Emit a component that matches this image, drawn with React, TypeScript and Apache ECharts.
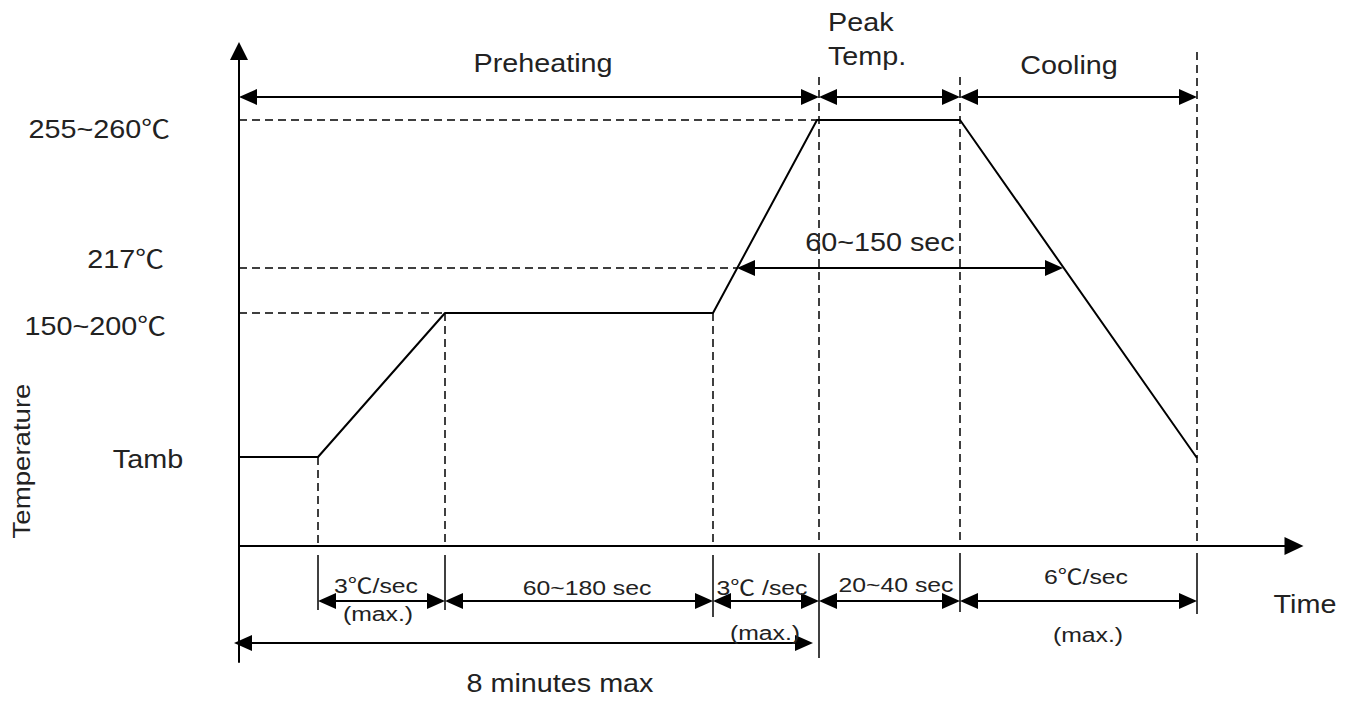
import React, { useEffect, useRef } from 'react';
import * as echarts from 'echarts';

// ---- schematic data (time units / temperature levels) ----
const profileTime = [0, 79, 206, 474, 578, 721, 958];
const profileTemp = [89, 89, 233, 233, 426, 426, 88];

const levelLabels = ['255~260℃', '217℃', '150~200℃', 'Tamb'];
const levelValues = [426, 278, 233, 89];

const stageBounds = [0, 79, 206, 474, 580, 721, 958];
const stageLabels = ['3℃/sec', '60~180 sec', '3℃ /sec', '20~40 sec', '6℃/sec'];
const stageNotes = ['(max.)', '', '(max.)', '', '(max.)'];
const guideTops = [89, 233, 233, 469, 469, 494];
const tickDepths = [-64, -64, -71, -112, -66, -68];

const phaseBounds = [0, 580, 721, 958];
const phaseLabels = ['Preheating', 'Peak\nTemp.', 'Cooling'];

const liquidusSpan = [498, 824];
const liquidusLabel = '60~150 sec';
const totalSpan = [-5, 574];
const totalLabel = '8 minutes max';

const axisNames = ['Temperature', 'Time'];

const FONT = '"Liberation Sans", Arial, "Noto Sans CJK SC", sans-serif';
const INK = '#000';
const TEXT = '#222';

function segmentRender(lineWidth: number, dash?: number[]) {
  return (params: any, api: any) => {
    const p1 = api.coord([api.value(0), api.value(1)]);
    const p2 = api.coord([api.value(2), api.value(3)]);
    const style: any = { stroke: INK, lineWidth };
    if (dash) style.lineDash = dash;
    return { type: 'line', shape: { x1: p1[0], y1: p1[1], x2: p2[0], y2: p2[1] }, style };
  };
}

function arrowRender(params: any, api: any) {
  const p1 = api.coord([api.value(0), api.value(1)]);
  const p2 = api.coord([api.value(2), api.value(3)]);
  const dx = p2[0] - p1[0];
  const dy = p2[1] - p1[1];
  const L = Math.hypot(dx, dy) || 1;
  const ux = dx / L;
  const uy = dy / L;
  const len = 18;
  const half = 8;
  const head = (tip: number[], d: number[]) => {
    const bx = tip[0] - d[0] * len;
    const by = tip[1] - d[1] * len;
    return {
      type: 'polygon',
      shape: {
        points: [
          [tip[0], tip[1]],
          [bx - d[1] * half, by + d[0] * half],
          [bx + d[1] * half, by - d[0] * half],
        ],
      },
      style: { fill: INK },
    };
  };
  return {
    type: 'group',
    children: [
      {
        type: 'line',
        shape: {
          x1: p1[0] + ux * len * 0.6,
          y1: p1[1] + uy * len * 0.6,
          x2: p2[0] - ux * len * 0.6,
          y2: p2[1] - uy * len * 0.6,
        },
        style: { stroke: INK, lineWidth: 2 },
      },
      head(p1, [-ux, -uy]),
      head(p2, [ux, uy]),
    ],
  };
}

function txt(text: string, x: number, y: number, size: number, opts: any = {}) {
  return {
    type: 'text',
    x,
    y,
    scaleX: opts.sx ?? 1.15,
    rotation: opts.rot ?? 0,
    z: 20,
    style: {
      text,
      font: `${size}px ${FONT}`,
      fill: TEXT,
      align: opts.align ?? 'center',
      verticalAlign: 'middle',
      lineHeight: opts.lh ?? size,
    },
  };
}

export default function App() {
  const ref = useRef<HTMLDivElement>(null);

  useEffect(() => {
    if (!ref.current) return;
    const chart = echarts.init(ref.current, null, { renderer: 'svg' });

    const phaseY = 449;
    const stageY = -55;
    const totalY = -97;

    // dashed guides
    const dashed: number[][] = [
      [0, levelValues[0], profileTime[4], levelValues[0]],
      [0, levelValues[1], liquidusSpan[0], levelValues[1]],
      [0, levelValues[2], profileTime[2], levelValues[2]],
    ];
    stageBounds.slice(1).forEach((x, i) => dashed.push([x, guideTops[i], x, 0]));

    // solid ticks below the time axis
    const ticks: number[][] = stageBounds
      .slice(1)
      .map((x, i) => [x, i < 3 ? -9 : -7, x, tickDepths[i]]);

    // dimension arrows
    const arrows: number[][] = [];
    for (let i = 0; i < phaseBounds.length - 1; i++)
      arrows.push([phaseBounds[i], phaseY, phaseBounds[i + 1], phaseY]);
    for (let i = 1; i < stageBounds.length - 1; i++)
      arrows.push([stageBounds[i], stageY, stageBounds[i + 1], stageY]);
    arrows.push([liquidusSpan[0], levelValues[1], liquidusSpan[1], levelValues[1]]);
    arrows.push([totalSpan[0], totalY, totalSpan[1], totalY]);

    const levelPos = [
      [170, 130],
      [164, 260],
      [166, 327],
    ];
    const stagePos = [
      [376, 586],
      [587, 588],
      [762, 588],
      [896, 585],
      [1086, 577],
    ];
    const notePos = [[378, 614], null, [765, 633], null, [1088, 635]];

    const graphics: any[] = [];
    levelLabels.forEach((t, i) => {
      if (i < 3) graphics.push(txt(t, levelPos[i][0], levelPos[i][1], 25, { align: 'right' }));
      else graphics.push(txt(t, 148, 460, 25));
    });
    graphics.push(txt(phaseLabels[0], 543, 64, 25));
    graphics.push(txt(phaseLabels[1], 828, 40, 25, { align: 'left', lh: 34 }));
    graphics.push(txt(phaseLabels[2], 1069, 66, 25));
    graphics.push(txt(liquidusLabel, 880, 243, 25));
    stageLabels.forEach((t, i) => {
      graphics.push(txt(t, stagePos[i][0], stagePos[i][1], 21, { sx: 1.18 }));
      const np = notePos[i];
      if (stageNotes[i] && np) graphics.push(txt(stageNotes[i], np[0], np[1], 21, { sx: 1.18 }));
    });
    graphics.push(txt(totalLabel, 560, 684, 25));
    graphics.push(txt(axisNames[0], 22, 461, 24, { rot: Math.PI / 2 }));
    graphics.push(txt(axisNames[1], 1305, 605, 25));

    chart.setOption({
      animation: false,
      backgroundColor: '#fff',
      grid: { left: 239, right: 60, top: 51, bottom: 40, outerBoundsMode: 'none', containLabel: false },
      xAxis: {
        type: 'value',
        min: 0,
        max: 1055,
        axisLine: {
          show: true,
          onZero: true,
          symbol: ['none', 'triangle'],
          symbolSize: [18, 19],
          lineStyle: { color: INK, width: 2 },
        },
        axisTick: { show: false },
        axisLabel: { show: false },
        splitLine: { show: false },
      },
      yAxis: {
        type: 'value',
        min: -116,
        max: 495,
        axisLine: {
          show: true,
          onZero: true,
          symbol: ['none', 'triangle'],
          symbolSize: [18, 18],
          lineStyle: { color: INK, width: 2 },
        },
        axisTick: { show: false },
        axisLabel: { show: false },
        splitLine: { show: false },
      },
      series: [
        {
          type: 'custom',
          name: 'guides',
          renderItem: segmentRender(1.5, [8, 5]),
          encode: { x: [0, 2], y: [1, 3] },
          data: dashed,
          silent: true,
          z: 1,
        },
        {
          type: 'custom',
          name: 'ticks',
          renderItem: segmentRender(1.5),
          encode: { x: [0, 2], y: [1, 3] },
          data: ticks,
          silent: true,
          z: 1,
        },
        {
          type: 'line',
          name: 'profile',
          data: profileTime.map((t, i) => [t, profileTemp[i]]),
          symbol: 'none',
          lineStyle: { color: INK, width: 2 },
          silent: true,
          z: 3,
        },
        {
          type: 'custom',
          name: 'spans',
          renderItem: arrowRender,
          encode: { x: [0, 2], y: [1, 3] },
          data: arrows,
          silent: true,
          z: 4,
        },
      ],
      graphic: graphics,
    });

    return () => chart.dispose();
  }, []);

  return (
    <div
      ref={ref}
      style={{ position: 'fixed', left: 0, top: 0, width: 1354, height: 702, background: '#fff' }}
    />
  );
}
